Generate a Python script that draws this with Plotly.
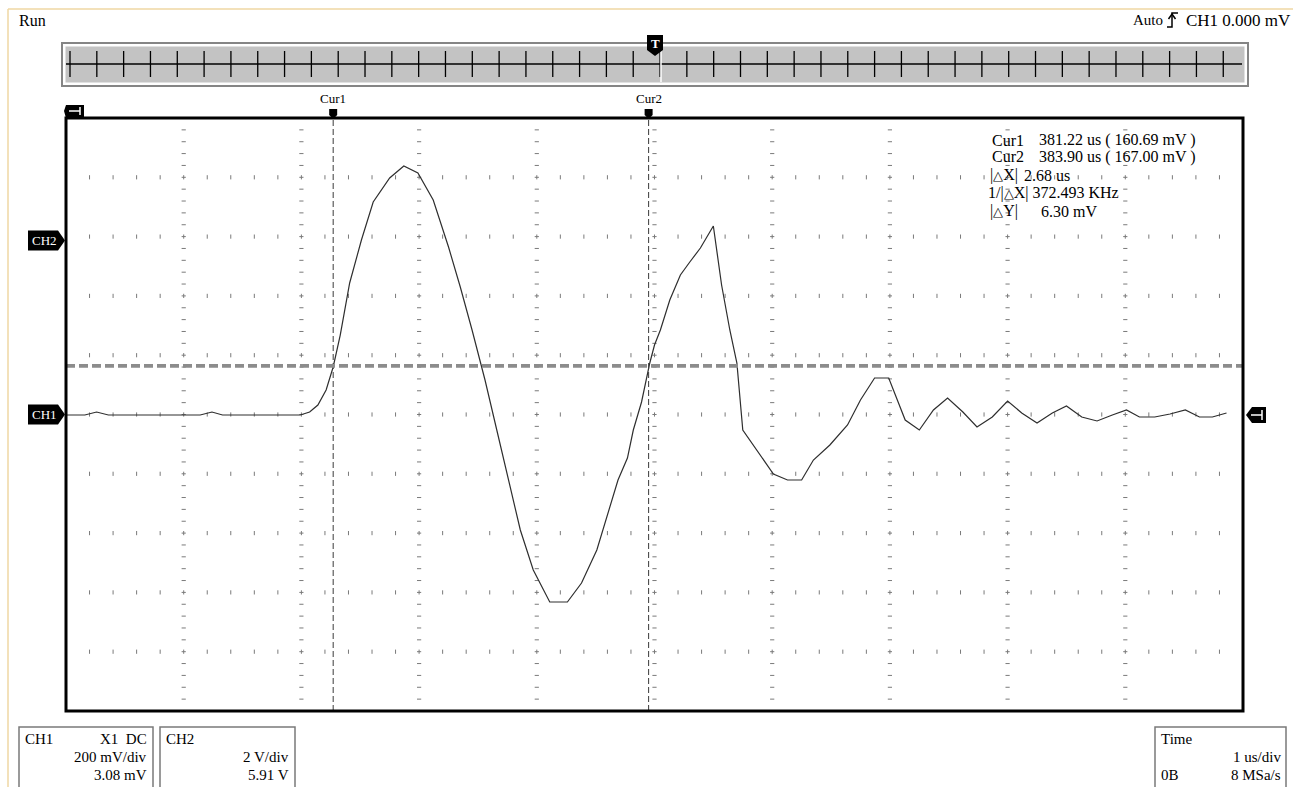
import numpy as np
import plotly.graph_objects as go

# CH1 trace (time in us, voltage in mV)
t_us = [378.95, 379.11, 379.21, 379.31, 380.09, 380.19, 380.28, 380.94,
        381.02, 381.09, 381.16, 381.22, 381.28, 381.36, 381.46, 381.56, 381.70, 381.82,
        381.94, 382.07, 382.20, 382.30, 382.40, 382.51, 382.61, 382.72, 382.81, 382.92,
        383.06, 383.21, 383.33, 383.46, 383.55, 383.64, 383.72, 383.77, 383.84, 383.91,
        383.95, 384.00, 384.08, 384.17, 384.25, 384.34, 384.45, 384.52, 384.59, 384.65,
        384.70, 384.82, 384.96, 385.08, 385.20, 385.30, 385.44, 385.59, 385.70, 385.82,
        385.94, 386.08, 386.20, 386.32, 386.44, 386.57, 386.69, 386.82, 386.95, 387.07,
        387.20, 387.33, 387.45, 387.58, 387.71, 387.84, 387.96, 388.07, 388.20, 388.33,
        388.46, 388.58, 388.69, 388.81]
ch1_mv = [-1.7, -1.7, 8.4, -1.7, -1.7, 8.4, -1.7, -1.7,
          8.4, 32.0, 82.6, 160.2, 268.1, 443.5, 588.5, 716.7, 797.6, 838.1,
          814.5, 723.4, 564.9, 430.0, 285.0, 116.4, -52.3, -237.8, -389.5, -524.5,
          -632.4, -632.4, -568.3, -457.0, -339.0, -220.9, -146.7, -52.3, 42.2, 173.7,
          234.4, 285.0, 386.2, 470.5, 514.3, 561.5, 635.8, 436.8, 285.0, 173.7,
          -52.3, -119.7, -200.7, -220.9, -220.9, -153.5, -102.9, -35.4, 48.9, 123.1,
          123.1, -18.5, -52.3, 15.2, 55.6, 8.4, -42.2, -8.4, 45.5, 5.1,
          -28.7, 5.1, 28.7, -8.4, -21.9, -1.7, 15.2, -8.4, -8.4, 1.7,
          15.2, -8.4, -8.4, 5.1]

# cursors and settings
cur1_t, cur1_v = 381.22, 160.69
cur2_t, cur2_v = 383.90, 167.00
t_left = 378.95
us_per_div = 1.0
mv_per_div = 200.0
n_xdiv, n_ydiv = 10, 10

TRI = "<span style='font-size:13px'>△</span>"
readout = [("Cur1", "381.22 us ( 160.69 mV )"),
           ("Cur2", "383.90 us ( 167.00 mV )"),
           (f"|{TRI}X|", "2.68 us"),
           (f"1/|{TRI}X| 372.493 KHz", ""),
           (f"|{TRI}Y|", "6.30 mV")]

W, H = 1293, 787
L, R, T, B = 66, 1243, 118, 711
FONT = "Liberation Serif"


def px(x):
    return (x - L) / (R - L)


def py(y):
    return (B - y) / (B - T)


shapes = []
annotations = []


def poly(pts, fill="black", line_color=None, width=0, closed=True):
    path = "M " + " L ".join(f"{px(x):.5f},{py(y):.5f}" for x, y in pts)
    if closed:
        path += " Z"
    shapes.append(dict(type="path", xref="paper", yref="paper", path=path,
                       fillcolor=fill if closed else "rgba(0,0,0,0)",
                       line=dict(color=line_color or fill, width=width)))


def rect(x0, y0, x1, y1, fill="rgba(0,0,0,0)", line_color="black", width=1):
    shapes.append(dict(type="rect", xref="paper", yref="paper",
                       x0=px(x0), x1=px(x1), y0=py(y1), y1=py(y0),
                       fillcolor=fill, line=dict(color=line_color, width=width)))


def txt(x, y, s, size=15, anchor="left", color="black"):
    annotations.append(dict(x=px(x), y=py(y), xref="paper", yref="paper", text=s,
                            showarrow=False, xanchor=anchor, yanchor="middle",
                            font=dict(family=FONT, size=size, color=color)))


fig = go.Figure()

# grid: dotted verticals and rows of ticks
x_min, x_max = t_left, t_left + n_xdiv * us_per_div
y_min, y_max = -n_ydiv / 2 * mv_per_div, n_ydiv / 2 * mv_per_div
gx, gy = [], []
for k in range(1, n_xdiv):
    for j in range(1, n_ydiv * 5):
        gx.append(x_min + k * us_per_div)
        gy.append(y_min + j * mv_per_div / 5)
fig.add_trace(go.Scatter(x=gx, y=gy, mode="markers", hoverinfo="skip",
                         marker=dict(symbol="line-ew", size=3,
                                     line=dict(color="#7a7a7a", width=1))))
hx, hy = [], []
for k in range(1, n_ydiv):
    for j in range(1, n_xdiv * 5):
        hx.append(x_min + j * us_per_div / 5)
        hy.append(y_min + k * mv_per_div)
fig.add_trace(go.Scatter(x=hx, y=hy, mode="markers", hoverinfo="skip",
                         marker=dict(symbol="line-ns", size=3,
                                     line=dict(color="#7a7a7a", width=1))))

# cursor lines
for ct in (cur1_t, cur2_t):
    shapes.append(dict(type="line", xref="x", yref="paper", x0=ct, x1=ct, y0=0, y1=1,
                       line=dict(color="#3a3a3a", width=1, dash="6px,3px")))
for cv in (cur1_v, cur2_v):
    shapes.append(dict(type="line", xref="paper", yref="y", x0=0, x1=1, y0=cv, y1=cv,
                       line=dict(color="#8c8c8c", width=2, dash="9px,4px")))

# CH1 waveform
fig.add_trace(go.Scatter(x=t_us, y=ch1_mv, mode="lines",
                         line=dict(color="#2e2e2e", width=1.2)))

# screen frame
rect(L, T, R, B, line_color="black", width=3)

# window edge
shapes.append(dict(type="line", xref="paper", yref="paper", x0=px(8), x1=px(1293),
                   y0=py(9), y1=py(9), line=dict(color="#efd7a3", width=1.5)))
shapes.append(dict(type="line", xref="paper", yref="paper", x0=px(8), x1=px(8),
                   y0=py(9), y1=py(787), line=dict(color="#efd7a3", width=1.5)))

# overview bar
rect(62, 43, 1248, 86, fill="white", line_color="#858585", width=2)
rect(65.5, 46.5, 1244.5, 82.5, fill="#c3c3c3", line_color="#c3c3c3", width=0)
shapes.append(dict(type="line", xref="paper", yref="paper", x0=px(66), x1=px(1242),
                   y0=py(64), y1=py(64), line=dict(color="black", width=1.5)))
tick_x = 70 + np.arange(44) * 26.82
tick_path = " ".join(f"M {px(x):.5f},{py(51):.5f} L {px(x):.5f},{py(77):.5f}" for x in tick_x)
shapes.append(dict(type="path", xref="paper", yref="paper", path=tick_path,
                   line=dict(color="black", width=1.3)))
shapes.append(dict(type="line", xref="paper", yref="paper", x0=px(661), x1=px(661),
                   y0=py(50), y1=py(82), line=dict(color="white", width=1.5)))
poly([(647, 35), (663, 35), (663, 50), (655, 56), (647, 50)])
txt(655, 44, "<b>T</b>", size=13, anchor="center", color="white")

# trigger/position markers
poly([(66, 105), (84, 105), (84, 118), (66, 118), (64, 111)])
poly([(69, 111), (80, 111)], fill="white", line_color="white", width=1.5, closed=False)
poly([(80, 107), (80, 115)], fill="white", line_color="white", width=1.5, closed=False)
poly([(1246, 415), (1252, 407), (1266, 407), (1266, 423), (1252, 423)])
poly([(1251, 415), (1262, 415)], fill="white", line_color="white", width=1.5, closed=False)
poly([(1262, 410), (1262, 420)], fill="white", line_color="white", width=1.5, closed=False)

# cursor tags
for ct, name in ((cur1_t, "Cur1"), (cur2_t, "Cur2")):
    cx = L + (ct - x_min) / (x_max - x_min) * (R - L)
    poly([(cx - 4, 109), (cx + 4, 109), (cx + 4, 115), (cx, 119), (cx - 4, 115)])
    txt(cx, 99, name, size=13, anchor="center")

# channel tags
for yc, name in ((240.5, "CH2"), (414.5, "CH1")):
    poly([(28, yc - 10), (58, yc - 10), (65, yc), (58, yc + 10), (28, yc + 10)])
    txt(44, yc, name, size=13, anchor="center", color="white")

# top status texts
txt(17, 20, "Run", size=16)
txt(1131, 20, "Auto", size=15)
poly([(1167, 27), (1172, 27), (1172, 13), (1178, 13)], fill="black",
     line_color="black", width=1.5, closed=False)
poly([(1168.5, 19), (1172, 14), (1175.5, 19)], fill="black",
     line_color="black", width=1.5, closed=False)
txt(1184, 20, "CH1 0.000 mV", size=17)

# cursor readout
row_y = [140, 157, 175, 193, 211]
val_x = [1037, 1037, 1022, 0, 1039]
lab_x = [990, 990, 988, 986, 988]
for (lab, val), yy, lx, vx in zip(readout, row_y, lab_x, val_x):
    txt(lx, yy, lab, size=16)
    if val:
        txt(vx, yy, val, size=16)

# bottom info boxes
rect(19, 727, 153, 792, fill="white", line_color="#7a7a7a", width=1.5)
rect(160, 727, 295, 792, fill="white", line_color="#7a7a7a", width=1.5)
rect(1155, 727, 1286, 792, fill="white", line_color="#7a7a7a", width=1.5)
txt(23, 739, "CH1", size=15)
txt(149, 739, "X1  DC", size=15, anchor="right")
txt(149, 757, "200 mV/div", size=15, anchor="right")
txt(149, 775, "3.08 mV", size=15, anchor="right")
txt(164, 739, "CH2", size=15)
txt(291, 757, "2 V/div", size=15, anchor="right")
txt(291, 775, "5.91 V", size=15, anchor="right")
txt(1159, 739, "Time", size=15)
txt(1283, 757, "1 us/div", size=15, anchor="right")
txt(1159, 775, "0B", size=15)
txt(1283, 775, "8 MSa/s", size=15, anchor="right")

fig.update_layout(
    width=W, height=H,
    margin=dict(l=L, r=W - R, t=T, b=H - B, pad=0),
    paper_bgcolor="white", plot_bgcolor="white",
    showlegend=False,
    xaxis=dict(range=[x_min, x_max], showgrid=False, zeroline=False,
               showticklabels=False, ticks="", fixedrange=True),
    yaxis=dict(range=[y_min, y_max], showgrid=False, zeroline=False,
               showticklabels=False, ticks="", fixedrange=True),
    shapes=shapes,
    annotations=annotations,
)

fig.write_html("out.html", config={"displayModeBar": False},
               post_script="document.body.style.margin='0';")
